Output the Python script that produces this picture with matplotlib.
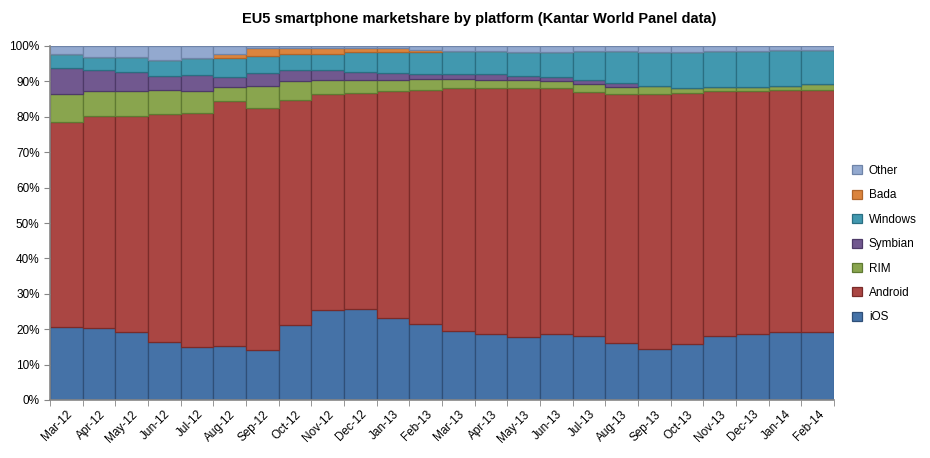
import numpy as np
import matplotlib
matplotlib.use('Agg')
import matplotlib.pyplot as plt
from matplotlib.ticker import FuncFormatter

# data (percent of smartphone sales)
months = ['Mar-12', 'Apr-12', 'May-12', 'Jun-12', 'Jul-12', 'Aug-12',
          'Sep-12', 'Oct-12', 'Nov-12', 'Dec-12', 'Jan-13', 'Feb-13',
          'Mar-13', 'Apr-13', 'May-13', 'Jun-13', 'Jul-13', 'Aug-13',
          'Sep-13', 'Oct-13', 'Nov-13', 'Dec-13', 'Jan-14', 'Feb-14']

ios = [20.5, 20.2, 19.1, 16.3, 14.9, 15.2, 14.0, 21.1, 25.3, 25.6, 23.1, 21.4,
       19.4, 18.6, 17.7, 18.6, 18.0, 16.0, 14.5, 15.7, 18.0, 18.6, 19.1, 19.1]
android = [57.9, 59.9, 61.2, 64.4, 66.1, 69.2, 68.4, 63.7, 61.1, 61.0, 64.1, 66.1,
           68.6, 69.4, 70.3, 69.4, 69.0, 70.4, 71.9, 70.9, 69.2, 68.6, 68.4, 68.6]
rim = [7.9, 7.3, 7.1, 7.0, 6.4, 3.9, 6.4, 5.4, 4.1, 3.9, 3.3, 3.1,
       2.8, 2.5, 2.5, 2.2, 2.4, 2.1, 2.4, 1.6, 1.3, 1.3, 1.3, 1.6]
symbian = [7.4, 5.9, 5.3, 3.9, 4.5, 3.0, 3.7, 2.9, 2.6, 2.2, 2.0, 1.5,
           1.3, 1.6, 1.1, 1.1, 1.1, 1.1, 0.0, 0.0, 0.0, 0.0, 0.0, 0.0]
windows = [3.9, 3.7, 4.3, 4.5, 4.8, 5.2, 4.8, 4.7, 4.7, 5.5, 5.7, 6.3,
           6.6, 6.6, 6.8, 7.1, 8.2, 9.1, 9.6, 10.2, 10.2, 10.2, 10.2, 9.7]
bada = [0.0, 0.0, 0.0, 0.0, 0.0, 1.1, 2.0, 1.7, 1.7, 1.3, 1.1, 0.6,
        0.0, 0.0, 0.0, 0.0, 0.0, 0.0, 0.0, 0.0, 0.0, 0.0, 0.0, 0.0]
other = [2.4, 3.0, 3.0, 3.9, 3.3, 2.4, 0.7, 0.5, 0.5, 0.5, 0.7, 1.0,
         1.3, 1.3, 1.6, 1.6, 1.3, 1.3, 1.6, 1.6, 1.3, 1.3, 1.0, 1.0]

series = [
    ('iOS', ios, '#4572A7', '#2F4F78'),
    ('Android', android, '#AA4643', '#7A2B29'),
    ('RIM', rim, '#89A54E', '#5F7A32'),
    ('Symbian', symbian, '#71588F', '#4E3A68'),
    ('Windows', windows, '#4198AF', '#2A6F82'),
    ('Bada', bada, '#DB843D', '#B0652A'),
    ('Other', other, '#93A9CF', '#6F84A8'),
]

plt.rcParams['font.family'] = ['Liberation Sans', 'DejaVu Sans']

fig = plt.figure(figsize=(9.3, 4.58), dpi=100)
ax = fig.add_axes([50 / 930, 1 - 400 / 458, 784 / 930, 354 / 458])

x = np.arange(len(months))
bottom = np.zeros(len(months))
handles = []
for name, vals, color, edge in series:
    vals = np.array(vals)
    b = ax.bar(x, vals, width=1.0, bottom=bottom, color=color,
               edgecolor=edge, linewidth=0.9, label=name)
    handles.append(b)
    bottom += vals

ax.set_xlim(-0.5, len(months) - 0.5)
ax.set_ylim(0, 100)
ax.set_yticks(np.arange(0, 101, 10))
ax.yaxis.set_major_formatter(FuncFormatter(lambda v, p: f'{int(v)}%'))

ax.set_xticks(x)
ax.set_xticklabels(months, rotation=45, ha='right', rotation_mode='anchor')
ax.set_xticks(np.arange(-0.5, len(months)), minor=True)
ax.tick_params(axis='x', which='major', length=0, pad=6, labelsize=8.5)
ax.tick_params(axis='x', which='minor', length=4, color='#868686')
ax.tick_params(axis='y', length=4, color='#868686', labelsize=8.5)

for s in ['top', 'right']:
    ax.spines[s].set_visible(False)
for s in ['left', 'bottom']:
    ax.spines[s].set_color('#868686')
    ax.spines[s].set_linewidth(1.2)

fig.text(479 / 930, 1 - 19 / 458,
         'EU5 smartphone marketshare by platform (Kantar World Panel data)',
         fontsize=10.5, fontweight='bold', ha='center', va='center')

leg = ax.legend(handles[::-1], [s[0] for s in series][::-1],
                loc='center left', bbox_to_anchor=(1.01, 0.44),
                frameon=False, fontsize=8.5, handlelength=0.8,
                handleheight=0.8, labelspacing=1.05, handletextpad=0.6)

fig.savefig('out.png', dpi=100)
